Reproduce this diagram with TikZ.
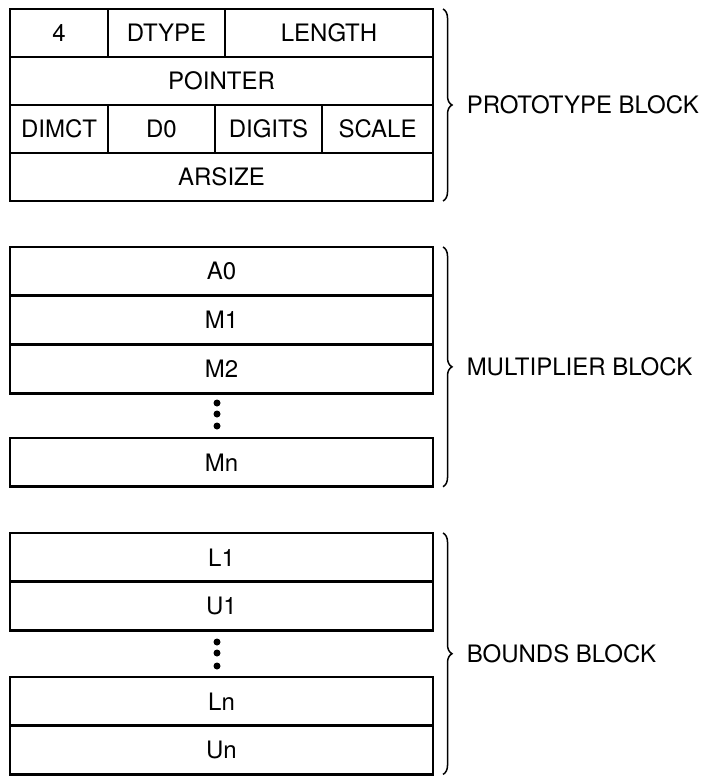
\documentclass[tikz,border=0pt]{standalone}
\usepackage{fontspec}
\setmainfont{TeX Gyre Heros}
\usetikzlibrary{positioning, decorations.pathreplacing}
\tikzset{
    cell/.style={rectangle, draw, line width=2.8pt, outer sep=0pt, inner sep=0pt, minimum height=#1, font=\fontsize{24}{28}\selectfont},
    cell/.default=48.7pt,
    blockbrace/.style={decorate, decoration={brace, amplitude=9pt}, line width=1.5pt},
    blocklabel/.style={right=23pt, inner sep=0pt, font=\fontsize{24}{28}\selectfont},
    ellipsisdot/.style={circle, fill, inner sep=0pt, minimum size=7pt}
}

\begin{document}
\begin{tikzpicture}[x=1pt, y=-1pt]
\useasboundingbox (0,0) rectangle (708,776);

% prototype block
\node[cell=48pt, minimum width=98pt, anchor=north west] (four) at (10,9) {4};
\node[cell=48pt, minimum width=117pt, right=0pt of four] (dtype) {DTYPE};
\node[cell=48pt, minimum width=208pt, right=0pt of dtype] (length) {LENGTH};
\node[cell=48pt, minimum width=423pt, below right=0pt of four.south west] (pointer) {POINTER};
\node[cell=48pt, minimum width=98pt, below right=0pt of pointer.south west] (dimct) {DIMCT};
\node[cell=48pt, minimum width=107pt, right=0pt of dimct] (dzero) {D0};
\node[cell=48pt, minimum width=107pt, right=0pt of dzero] (digits) {DIGITS};
\node[cell=48pt, minimum width=111pt, right=0pt of digits] (scale) {SCALE};
\node[cell=48pt, minimum width=423pt, below right=0pt of dimct.south west] (arsize) {ARSIZE};

% multiplier block
\node[cell, minimum width=423pt, anchor=north west] (azero) at (10,247) {A0};
\node[cell, minimum width=423pt, below=0pt of azero] (mone) {M1};
\node[cell, minimum width=423pt, below=0pt of mone] (mtwo) {M2};
\foreach \y [count=\i] in {403,414,426}
    \node[ellipsisdot] (mdot\i) at (217,\y) {};
\node[cell, minimum width=423pt, anchor=north west] (mn) at (10,438) {Mn};

% bounds block
\node[cell, minimum width=423pt, anchor=north west] (lone) at (10,533) {L1};
\node[cell, minimum width=423pt, below=0pt of lone] (uone) {U1};
\foreach \y [count=\i] in {642,653,666}
    \node[ellipsisdot] (bdot\i) at (217,\y) {};
\node[cell, minimum width=423pt, anchor=north west] (ln) at (10,677) {Ln};
\node[cell, minimum width=423pt, below=0pt of ln] (un) {Un};

% braces
\draw[blockbrace] ([xshift=10pt]length.north east) -- ([xshift=10pt]arsize.south east)
    node[midway, blocklabel] (protolabel) {PROTOTYPE BLOCK};
\draw[blockbrace] ([xshift=10pt]azero.north east) -- ([xshift=10pt]mn.south east)
    node[midway, blocklabel] (multlabel) {MULTIPLIER BLOCK};
\draw[blockbrace] ([xshift=10pt]lone.north east) -- ([xshift=10pt]un.south east)
    node[midway, blocklabel] (boundslabel) {BOUNDS BLOCK};

\end{tikzpicture}
\end{document}
